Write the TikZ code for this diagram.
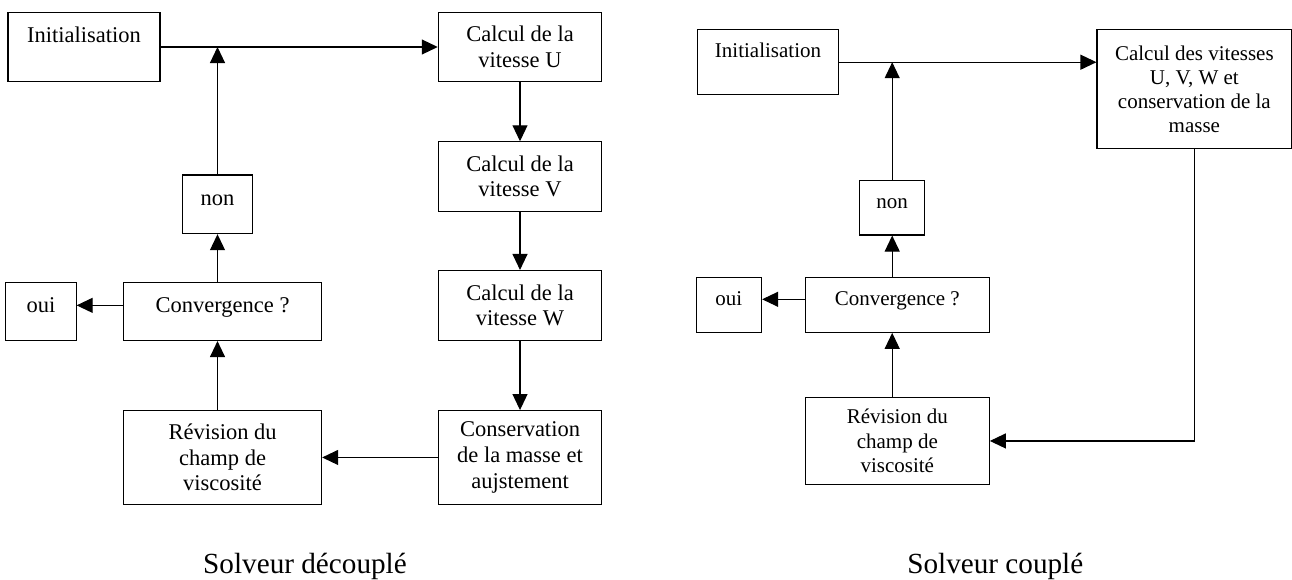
\documentclass[tikz,border=0pt]{standalone}
\usepackage{fontspec}
\setmainfont{Liberation Serif}
\usetikzlibrary{arrows.meta, positioning}

\begin{document}
\begin{tikzpicture}[x=1pt, y=-1pt, line width=1.1pt,
        box/.style={rectangle, draw, align=center, inner sep=0pt, font=\fontsize{22.5}{25.7}\selectfont},
        boxb/.style={box, font=\fontsize{21}{24.2}\selectfont},
        raised/.style={text height=15pt, text depth=#1},
        titre/.style={font=\fontsize{29.2}{34}\selectfont, anchor=base},
        >={Triangle[length=16pt, width=15pt]}]
        \useasboundingbox (0,0) rectangle (1292,579);

        % Solveur decouple
        \node (initA) [box, raised=24pt, minimum width=152pt, minimum height=69.7pt] at (84,47) {Initialisation};
        \node (calcU) [box, minimum width=163.4pt, minimum height=69.4pt] at (520,47) {Calcul de la\\vitesse U};
        \node (calcV) [box, below=59pt of calcU, minimum width=163.4pt, minimum height=69.3pt] {Calcul de la\\vitesse V};
        \node (calcW) [box, below=58.3pt of calcV, minimum width=163.4pt, minimum height=70pt] {Calcul de la\\vitesse W};
        \node (consA) [box, below=69pt of calcW, minimum width=163.4pt, minimum height=93.7pt] {Conservation\\de la masse et\\aujstement};
        \node (revA) [box, left=115.6pt of consA, minimum width=198pt, minimum height=93.7pt] {Révision du\\champ de\\viscosité};
        \node (convA) [box, raised=13pt, above=69pt of revA, minimum width=198pt, minimum height=58.3pt] {Convergence ?};
        \node (ouiA) [box, raised=13pt, left=46.4pt of convA, minimum width=70.3pt, minimum height=58.3pt] {oui};
        \node (nonA) [box, raised=13pt, minimum width=70pt, minimum height=58.7pt] at (217.5,204.3) {non};

        \draw[->] (initA) -- (calcU);
        \draw[->] (calcU) -- (calcV);
        \draw[->] (calcV) -- (calcW);
        \draw[->] (calcW) -- (consA);
        \draw[->] (consA) -- (revA);
        \draw[->] (revA.north -| nonA) -- (convA.south -| nonA);
        \draw[->] ([yshift=6pt]convA.west) -- ([yshift=6pt]ouiA.east);
        \draw[->] (convA.north -| nonA) -- (nonA);
        \draw[->] (nonA) -- (nonA |- initA.east);

        % Solveur couple
        \node (initB) [boxb, raised=25pt, minimum width=141.4pt, minimum height=65pt] at (768,62.2) {Initialisation};
        \node (calcB) [boxb, minimum width=194.7pt, minimum height=119pt] at (1194.35,89.2) {Calcul des vitesses\\U, V, W et\\conservation de la\\masse};
        \node (nonB) [boxb, raised=13pt, minimum width=65pt, minimum height=54.3pt] at (892.2,207.85) {non};
        \node (convB) [boxb, raised=13pt, minimum width=184pt, minimum height=55pt] at (897.3,304.8) {Convergence ?};
        \node (ouiB) [boxb, raised=13pt, left=42.6pt of convB, minimum width=65.4pt, minimum height=55pt] {oui};
        \node (revB) [boxb, below=64.4pt of convB, minimum width=184pt, minimum height=86.3pt] {Révision du\\champ de\\viscosité};

        \draw[->] (initB) -- (initB -| calcB.west);
        \draw[->] (nonB) -- (nonB |- initB);
        \draw[->] (convB.north -| nonB) -- (nonB);
        \draw[->] (revB.north -| nonB) -- (convB.south -| nonB);
        \draw[->] ([yshift=5.5pt]convB.west) -- ([yshift=5.5pt]ouiB.east);
        \draw[->] (calcB) |- (revB);

        \node (titreA) [titre] at (305,573.3) {Solveur découplé};
        \node (titreB) [titre] at (995.3,573.3) {Solveur couplé};
    \end{tikzpicture}
\end{document}
